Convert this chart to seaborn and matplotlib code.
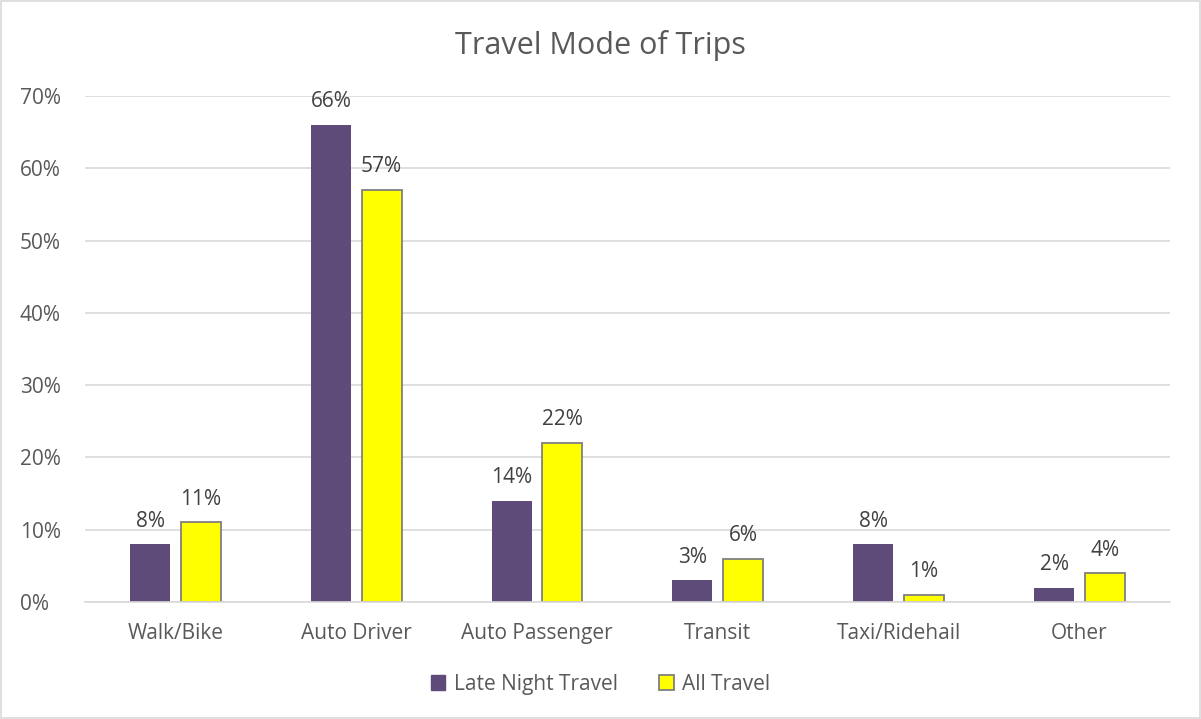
import matplotlib
matplotlib.use("Agg")
import matplotlib.pyplot as plt
import seaborn as sns
import pandas as pd
from matplotlib.patches import Rectangle

categories = ["Walk/Bike", "Auto Driver", "Auto Passenger", "Transit", "Taxi/Ridehail", "Other"]
late_night = [8, 66, 14, 3, 8, 2]
all_travel = [11, 57, 22, 6, 1, 4]
series_names = ["Late Night Travel", "All Travel"]
yticks = [0, 10, 20, 30, 40, 50, 60, 70]

df = pd.DataFrame({
    "mode": categories * 2,
    "value": [v / 100 for v in late_night] + [v / 100 for v in all_travel],
    "series": [series_names[0]] * len(categories) + [series_names[1]] * len(categories),
})

sns.set_theme(style="white")
plt.rcParams["font.family"] = ["Open Sans", "DejaVu Sans"]
text_color = "#595959"
fs = 15

fig = plt.figure(figsize=(12.01, 7.19), dpi=100)
ax = fig.add_axes([0.0708, 0.1627, 0.9032, 0.7038])

palette = {series_names[0]: "#5F4B7A", series_names[1]: "#FFFF00"}
sns.barplot(data=df, x="mode", y="value", hue="series", palette=palette,
            width=0.56, gap=0.21, ax=ax, legend=False, saturation=1)

for i, cont in enumerate(ax.containers):
    for bar in cont:
        if i == 1:
            bar.set_edgecolor("#7F7F7F")
            bar.set_linewidth(1.3)
        else:
            bar.set_linewidth(0)
    vals = late_night if i == 0 else all_travel
    ax.bar_label(cont, labels=[f"{v}%" for v in vals], padding=9,
                 fontsize=fs, color="#404040")

ax.set_ylim(0, 0.70)
ax.set_xlim(-0.5, len(categories) - 0.5)
ax.set_yticks([t / 100 for t in yticks])
ax.set_yticklabels([f"{t}%" for t in yticks], fontsize=fs, color=text_color)
ax.tick_params(axis="x", labelsize=fs, labelcolor=text_color, length=0, pad=15)
ax.tick_params(axis="y", length=0, pad=47)
for lbl in ax.get_yticklabels():
    lbl.set_horizontalalignment("left")
ax.set_xlabel("")
ax.set_ylabel("")
ax.yaxis.grid(True, color="#D9D9D9", linewidth=1.2)
ax.set_axisbelow(True)
for s in ["top", "right", "left"]:
    ax.spines[s].set_visible(False)
ax.spines["bottom"].set_color("#D9D9D9")
ax.spines["bottom"].set_linewidth(1.2)

fig.text(0.5, 0.937, "Travel Mode of Trips", ha="center", va="center",
         fontsize=22, color=text_color)

handles = [Rectangle((0, 0), 1, 1, facecolor="#5F4B7A", edgecolor="#5F4B7A"),
           Rectangle((0, 0), 1, 1, facecolor="#FFFF00", edgecolor="#7F7F7F", linewidth=1.3)]
leg = fig.legend(handles, series_names, loc="center", bbox_to_anchor=(0.5, 0.048),
                 ncol=2, frameon=False, fontsize=fs, handlelength=0.7, handleheight=0.7,
                 handletextpad=0.4, columnspacing=2.0)
for t in leg.get_texts():
    t.set_color(text_color)

fig.patches.append(Rectangle((0.0008, 0.0014), 0.9984, 0.9972, transform=fig.transFigure,
                             fill=False, edgecolor="#D9D9D9", linewidth=1.2))

fig.savefig("out.png", dpi=100)
